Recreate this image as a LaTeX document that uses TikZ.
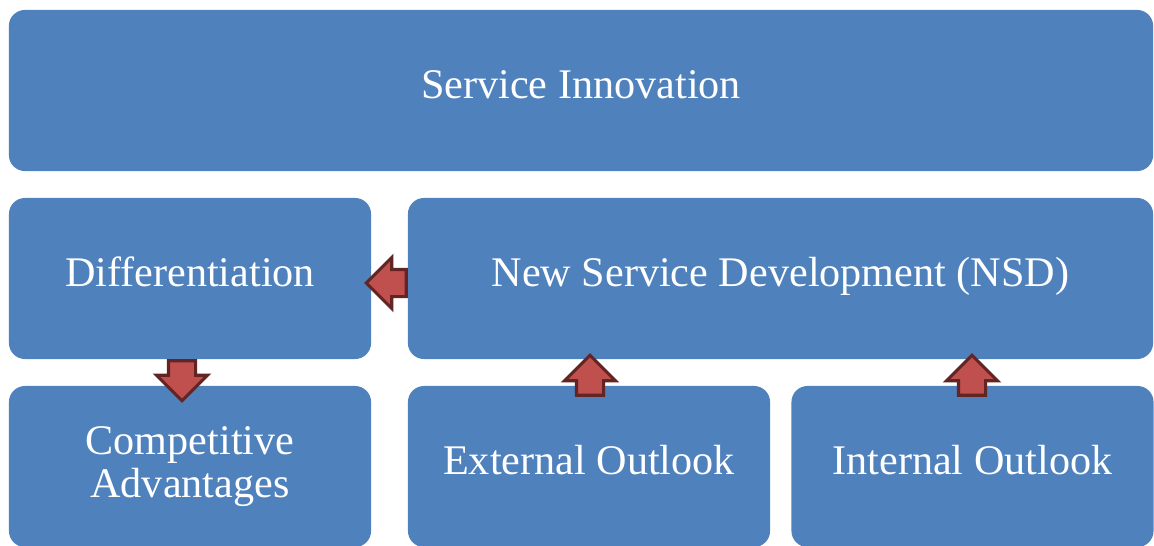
\documentclass[tikz,border=0pt]{standalone}
\usepackage{fontspec}
\setmainfont{Liberation Serif}
\usetikzlibrary{shapes.arrows}
\definecolor{boxblue}{HTML}{4F81BD}
\definecolor{arrowred}{HTML}{C0504D}
\definecolor{arrowrim}{HTML}{632523}
\tikzset{
  blockbox/.style={fill=boxblue,rounded corners=0.4cm,text=white,
    minimum height=4.025cm,inner sep=0pt,align=center,
    font=\fontsize{30}{31}\selectfont},
  oneline/.style={text height=0.7cm,text depth=0.3cm},
  blockarrow/.style={single arrow,fill=arrowred,draw=arrowrim,line width=2.2pt,
    minimum height=1cm,minimum width=0pt,inner sep=0pt,
    single arrow head extend=0.3cm}
}
\newcommand{\hshaft}{\rule{0pt}{0.6cm}}
\newcommand{\vshaft}{\rule{0.6cm}{0pt}}
\begin{document}
\begin{tikzpicture}[x=0.025cm,y=-0.025cm]
  \useasboundingbox (0,0) rectangle (1154,545);
  \node[blockbox,oneline,minimum width=28.6cm] (innov) at (581,90.5) {Service Innovation};
  \node[blockbox,oneline,minimum width=9.05cm] (diff) at (190,278.5) {Differentiation};
  \node[blockbox,oneline,minimum width=18.625cm] (nsd) at (780.5,278.5) {New Service Development (NSD)};
  \node[blockbox,minimum width=9.05cm] (comp) at (190,466.5) {Competitive\\Advantages};
  \node[blockbox,oneline,minimum width=9.05cm] (ext) at (589,466.5) {External Outlook};
  \node[blockbox,oneline,minimum width=9.05cm] (int) at (972.5,466.5) {Internal Outlook};
  \node[blockarrow,shape border rotate=180] (nsd2diff) at (393,283) {\hshaft};
  \node[blockarrow,shape border rotate=270] (diff2comp) at (182,374) {\vshaft};
  \node[blockarrow,shape border rotate=90] (ext2nsd) at (590,382) {\vshaft};
  \node[blockarrow,shape border rotate=90] (int2nsd) at (972,382) {\vshaft};
\end{tikzpicture}
\end{document}
